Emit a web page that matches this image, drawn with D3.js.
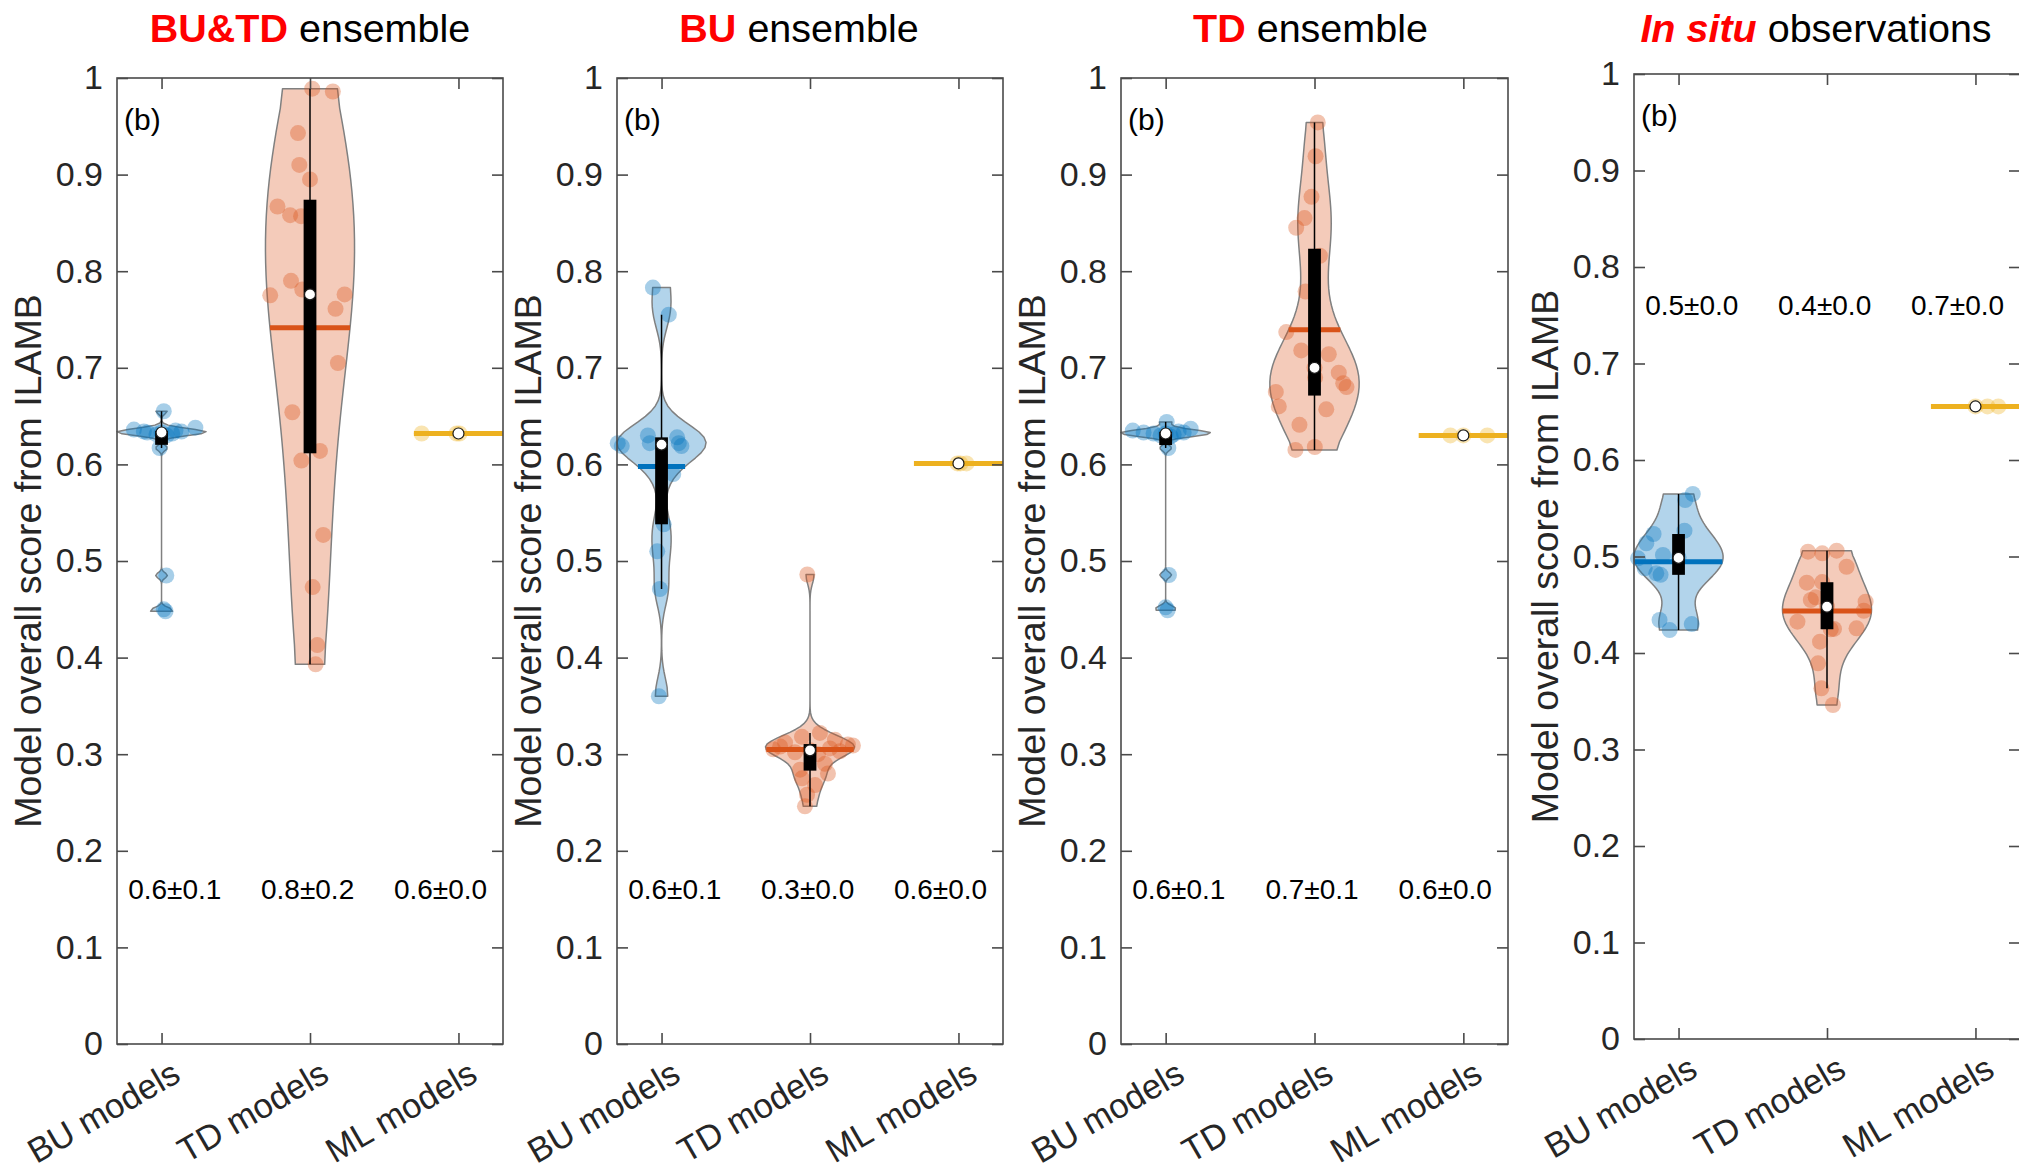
<!DOCTYPE html>
<html>
<head>
<meta charset="utf-8">
<script src="https://cdn.jsdelivr.net/npm/d3@7"></script>
<style>
  html, body { margin: 0; padding: 0; background: #fff; }
  svg { display: block; font-family: "Liberation Sans", Arial, Helvetica, sans-serif; }
</style>
</head>
<body>
<svg id="chart" width="2019" height="1173"></svg>
<script>
// ---------------- data ----------------
const categories = ["BU models", "TD models", "ML models"];
const yTickValues = [0, 0.1, 0.2, 0.3, 0.4, 0.5, 0.6, 0.7, 0.8, 0.9, 1];
const yTickLabels = ["0", "0.1", "0.2", "0.3", "0.4", "0.5", "0.6", "0.7", "0.8", "0.9", "1"];
const titleHighlight = ["BU&TD", "BU", "TD", "In situ"];
const titleRest = [" ensemble", " ensemble", " ensemble", " observations"];
const panelTag = "(b)";
const yAxisTitle = "Model overall score from ILAMB";

// Scores against the BU&TD ensemble
const butdBU = [0.655, 0.638, 0.636, 0.635, 0.634, 0.634, 0.633, 0.633, 0.632, 0.631, 0.630, 0.617, 0.485, 0.450, 0.448];
const butdBUJitter = [0.015, 0.228, -0.186, 0.094, -0.119, 0.134, -0.096, 0, 0.072, -0.034, 0.034, -0.013, 0.032, 0.015, 0.027];
const butdTD = [0.989, 0.986, 0.943, 0.910, 0.895, 0.867, 0.858, 0.857, 0.790, 0.781, 0.775, 0.776, 0.761, 0.705, 0.654, 0.614, 0.604, 0.527, 0.473, 0.413, 0.393];
const butdTDJitter = [0.015, 0.154, -0.081, -0.072, 0, -0.219, -0.134, -0.060, -0.128, -0.052, -0.268, 0.233, 0.172, 0.188, -0.119, 0.067, -0.058, 0.089, 0.018, 0.049, 0.038];
const butdML = [0.632, 0.632, 0.632];
const butdMLJitter = [-0.248, 0.007, -0.013];

// Scores against the BU ensemble
const buBU = [0.783, 0.755, 0.622, 0.619, 0.630, 0.622, 0.628, 0.622, 0.619, 0.590, 0.538, 0.510, 0.471, 0.360];
const buBUJitter = [-0.058, 0.049, -0.295, -0.268, -0.092, -0.079, 0.105, 0.116, 0.134, 0.079, 0.015, -0.029, -0.011, -0.018];
const buTD = [0.486, 0.322, 0.318, 0.315, 0.312, 0.310, 0.309, 0.308, 0.306, 0.305, 0.304, 0.303, 0.302, 0.300, 0.290, 0.284, 0.280, 0.275, 0.268, 0.258, 0.246];
const buTDJitter = [-0.018, 0.067, -0.054, 0.168, -0.168, 0.255, 0.289, -0.201, 0.134, -0.248, 0, 0.201, -0.101, 0.054, 0.101, -0.067, 0.121, -0.054, 0.034, -0.020, -0.034];
const buML = [0.601, 0.601, 0.601];
const buMLJitter = [0.054, 0.013, -0.007];

// Scores against the TD ensemble
const tdBU = [0.644, 0.637, 0.635, 0.634, 0.633, 0.633, 0.632, 0.632, 0.631, 0.630, 0.629, 0.617, 0.4855, 0.452, 0.449];
const tdBUJitter = [0.007, 0.168, -0.221, 0.087, -0.148, 0.121, -0.081, 0, 0.054, -0.034, 0.034, 0.018, 0.022, 0, 0.013];
const tdTD = [0.954, 0.919, 0.877, 0.855, 0.845, 0.816, 0.779, 0.737, 0.718, 0.714, 0.700, 0.695, 0.690, 0.684, 0.680, 0.675, 0.660, 0.657, 0.641, 0.618, 0.615];
const tdTDJitter = [0.022, 0.007, -0.020, -0.067, -0.123, 0.036, -0.060, -0.190, -0.089, 0.096, 0, 0.163, 0.004, 0.193, 0.215, -0.260, -0.240, 0.079, -0.101, 0.002, -0.128];
const tdML = [0.630, 0.630, 0.630];
const tdMLJitter = [-0.087, 0.161, 0];

// Scores against in situ observations
const obsBU = [0.5648, 0.5585, 0.5268, 0.5233, 0.5137, 0.5016, 0.4990, 0.4981, 0.4878, 0.4826, 0.4810, 0.4342, 0.4300, 0.4238];
const obsBUJitter = [0.096, 0.045, 0.040, -0.168, -0.217, -0.105, 0, -0.273, -0.228, -0.150, -0.121, -0.128, 0.089, -0.060];
const obsTD = [0.506, 0.505, 0.5033, 0.4894, 0.4735, 0.4729, 0.4577, 0.4549, 0.4532, 0.448, 0.4438, 0.4325, 0.4256, 0.4250, 0.4245, 0.4117, 0.3893, 0.3634, 0.3461];
const obsTDJitter = [0.065, -0.128, -0.032, 0.132, -0.032, -0.136, -0.076, -0.109, 0.260, 0, 0.248, -0.199, 0.199, 0.047, 0.025, -0.047, -0.060, -0.038, 0.040];
const obsML = [0.6555, 0.6555, 0.6555];
const obsMLJitter = [0.081, 0.154, 0];

// ---------------- layout & style ----------------
const groupColors = ["#0072BD", "#D95319", "#EDB120"];
const panels = [
  { left: 117,  right: 503,  top: 78, bottom: 1044, titleShift: 0,   statY: 0.15,
    groups: [[butdBU, butdBUJitter], [butdTD, butdTDJitter], [butdML, butdMLJitter]] },
  { left: 617,  right: 1003, top: 78, bottom: 1044, titleShift: -11, statY: 0.15,
    groups: [[buBU, buBUJitter], [buTD, buTDJitter], [buML, buMLJitter]] },
  { left: 1121, right: 1508, top: 78, bottom: 1044, titleShift: -4,  statY: 0.15,
    groups: [[tdBU, tdBUJitter], [tdTD, tdTDJitter], [tdML, tdMLJitter]] },
  { left: 1634, right: 2020, top: 74, bottom: 1039, titleShift: -11, statY: 0.75,
    groups: [[obsBU, obsBUJitter], [obsTD, obsTDJitter], [obsML, obsMLJitter]] }
];
const violinHalfWidth = 0.3;   // in category units
const boxHalfWidth = 0.043;
const tickLen = 11;
const axisColor = "#4a4a4a";
const textColor = "#262626";
const fontStack = "\"Liberation Sans\", Arial, Helvetica, sans-serif";

// ---------------- statistics (MATLAB-style) ----------------
function mQuantile(sorted, p) {
  const n = sorted.length;
  const pos = n * p + 0.5;
  if (pos <= 1) return sorted[0];
  if (pos >= n) return sorted[n - 1];
  const lo = Math.floor(pos);
  return sorted[lo - 1] + (pos - lo) * (sorted[lo] - sorted[lo - 1]);
}

function ksdensity(data) {
  const n = data.length;
  const med = d3.median(data);
  let sig = d3.median(data, v => Math.abs(v - med)) / 0.6745;
  const mn = d3.min(data), mx = d3.max(data);
  if (!(sig > 0)) sig = mx - mn;
  const u = sig > 0 ? sig * Math.pow(4 / (3 * n), 0.2) : 1;
  const lo = mn - 3 * u, hi = mx + 3 * u;
  const xs = d3.range(100).map(i => lo + (hi - lo) * i / 99);
  const dens = xs.map(x => d3.sum(data, v => Math.exp(-0.5 * ((x - v) / u) ** 2)) / (n * u * Math.sqrt(2 * Math.PI)));
  return { xs, dens };
}

function violinStats(data) {
  const sorted = data.slice().sort(d3.ascending);
  const mn = sorted[0], mx = sorted[sorted.length - 1];
  const q1 = mQuantile(sorted, 0.25), q2 = mQuantile(sorted, 0.5), q3 = mQuantile(sorted, 0.75);
  const iqr = q3 - q1;
  let lowW = q1 - 1.5 * iqr;
  lowW = Math.max(lowW, d3.min(data.filter(v => v > lowW)));
  let hiW = q3 + 1.5 * iqr;
  hiW = Math.min(hiW, d3.max(data.filter(v => v < hiW)));
  const mean = d3.mean(data);
  const sd = d3.deviation(data) || 0;
  let shape = null, meanHalf = violinHalfWidth;
  if (mx > mn) {
    const { xs, dens } = ksdensity(data);
    const keep = xs.map((x, i) => [x, dens[i]]).filter(([x]) => x >= mn && x <= mx);
    keep[0][0] = mn;
    keep[keep.length - 1][0] = mx;
    const scale = violinHalfWidth / d3.max(keep, d => d[1]);
    shape = keep.map(([v, d]) => [v, d * scale]);
    // density width at the mean
    const idx = d3.bisector(d => d[0]).left(shape, mean);
    if (idx <= 0) meanHalf = shape[0][1];
    else if (idx >= shape.length) meanHalf = shape[shape.length - 1][1];
    else {
      const a = shape[idx - 1], b = shape[idx];
      meanHalf = a[1] + (b[1] - a[1]) * (mean - a[0]) / (b[0] - a[0]);
    }
  }
  return { q1, q2, q3, lowW, hiW, mean, sd, shape, meanHalf };
}

// ---------------- drawing ----------------
const svg = d3.select("#chart");

panels.forEach((p, pi) => {
  const x = d3.scaleLinear().domain([0.7, 3.3]).range([p.left, p.right]);
  const y = d3.scaleLinear().domain([0, 1]).range([p.bottom, p.top]);
  const g = svg.append("g");

  // title
  const title = g.append("text")
    .attr("x", (p.left + p.right) / 2 + p.titleShift)
    .attr("y", 42)
    .attr("text-anchor", "middle")
    .attr("font-size", 39.5);
  title.append("tspan").text(titleHighlight[pi])
    .attr("fill", "#ff0000").attr("font-weight", "bold")
    .attr("font-style", pi === 3 ? "italic" : "normal");
  title.append("tspan").text(titleRest[pi]).attr("fill", "#000");

  // violins
  p.groups.forEach(([scores, jitter], gi) => {
    const pos = gi + 1;
    const color = groupColors[gi];
    const st = violinStats(scores);

    if (st.shape) {
      const outline = st.shape.map(([v, d]) => [x(pos + d), y(v)])
        .concat(st.shape.slice().reverse().map(([v, d]) => [x(pos - d), y(v)]));
      g.append("path")
        .attr("d", d3.line()(outline) + "Z")
        .attr("fill", color).attr("fill-opacity", 0.3)
        .attr("stroke", "#808080").attr("stroke-width", 1.5)
        .attr("stroke-linejoin", "round");
    }

    g.append("g").selectAll("circle").data(scores).join("circle")
      .attr("cx", (v, i) => x(pos + jitter[i]))
      .attr("cy", v => y(v))
      .attr("r", 8)
      .attr("fill", color).attr("fill-opacity", 0.35);

    g.append("line")
      .attr("x1", x(pos - st.meanHalf)).attr("x2", x(pos + st.meanHalf))
      .attr("y1", y(st.mean)).attr("y2", y(st.mean))
      .attr("stroke", color).attr("stroke-width", 5);

    if (st.q3 > st.q1) {
      g.append("rect")
        .attr("x", x(pos - boxHalfWidth)).attr("width", x(pos + boxHalfWidth) - x(pos - boxHalfWidth))
        .attr("y", y(st.q3)).attr("height", y(st.q1) - y(st.q3))
        .attr("fill", "#000");
    }
    if (st.hiW > st.lowW) {
      g.append("line")
        .attr("x1", x(pos)).attr("x2", x(pos))
        .attr("y1", y(st.lowW)).attr("y2", y(st.hiW))
        .attr("stroke", "#000").attr("stroke-width", 1.5);
    }
    g.append("circle")
      .attr("cx", x(pos)).attr("cy", y(st.q2)).attr("r", 5.5)
      .attr("fill", "#fff").attr("stroke", "#1a1a1a").attr("stroke-width", 1.2);

    // median ± standard deviation
    g.append("text")
      .attr("x", x(0.775 + 0.895 * gi))
      .attr("y", y(p.statY))
      .attr("font-size", 28).attr("fill", "#000")
      .text(st.q2.toFixed(1) + "\u00b1" + st.sd.toFixed(1));
  });

  // axes
  const yLeft = d3.axisLeft(y).tickValues(yTickValues)
    .tickFormat((d, i) => yTickLabels[i]).tickSize(-tickLen).tickPadding(14);
  const yRight = d3.axisRight(y).tickValues(yTickValues).tickFormat("").tickSize(-tickLen);
  const xBottom = d3.axisBottom(x).tickValues([1, 2, 3]).tickFormat("").tickSize(-tickLen);
  const xTop = d3.axisTop(x).tickValues([1, 2, 3]).tickFormat("").tickSize(-tickLen);

  const axes = [
    [yLeft, `translate(${p.left},0)`],
    [yRight, `translate(${p.right},0)`],
    [xBottom, `translate(0,${p.bottom})`],
    [xTop, `translate(0,${p.top})`]
  ];
  axes.forEach(([ax, tr]) => {
    const a = g.append("g").attr("transform", tr).call(ax);
    a.select(".domain").remove();
    a.selectAll(".tick line").attr("stroke", axisColor).attr("stroke-width", 1.6);
    a.selectAll(".tick text").attr("font-size", 34).attr("fill", textColor)
      .attr("font-family", fontStack);
  });

  g.append("rect")
    .attr("x", p.left).attr("y", p.top)
    .attr("width", p.right - p.left).attr("height", p.bottom - p.top)
    .attr("fill", "none").attr("stroke", axisColor).attr("stroke-width", 1.6);

  // rotated category labels
  g.append("g").selectAll("text").data(categories).join("text")
    .attr("transform", (d, i) => `translate(${x(i + 1) + 21},${p.bottom + 36}) rotate(-30)`)
    .attr("text-anchor", "end")
    .attr("font-size", 34.5).attr("fill", textColor)
    .text(d => d);

  // y-axis title
  g.append("text")
    .attr("transform", `translate(${p.left - 76},${(p.top + p.bottom) / 2}) rotate(-90)`)
    .attr("text-anchor", "middle")
    .attr("font-size", 37.5).attr("fill", textColor)
    .text(yAxisTitle);

  // panel tag
  g.append("text")
    .attr("x", p.left + 7).attr("y", p.top + 52)
    .attr("font-size", 30).attr("fill", "#000")
    .text(panelTag);
});
</script>
</body>
</html>
